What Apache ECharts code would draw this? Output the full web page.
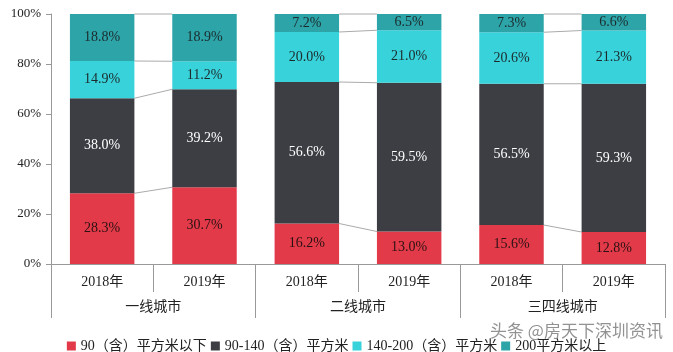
<!DOCTYPE html>
<html>
<head>
<meta charset="utf-8">
<script src="https://cdn.jsdelivr.net/npm/echarts@6/dist/echarts.min.js"></script>
<style>
  html, body { margin: 0; padding: 0; background: #fff; }
  #main { width: 673px; height: 352px; }
</style>
</head>
<body>
<div id="main"></div>
<script>
var years = ['2018年', '2019年', '2018年', '2019年', '2018年', '2019年'];
var groups = ['一线城市', '二线城市', '三四线城市'];
var seriesNames = ['90（含）平方米以下', '90-140（含）平方米', '140-200（含）平方米', '200平方米以上'];
var below90 = [28.3, 30.7, 16.2, 13.0, 15.6, 12.8];
var from90to140 = [38.0, 39.2, 56.6, 59.5, 56.5, 59.3];
var from140to200 = [14.9, 11.2, 20.0, 21.0, 20.6, 21.3];
var above200 = [18.8, 18.9, 7.2, 6.5, 7.3, 6.6];

var colors = ['#e23a48', '#3d3e44', '#38d2da', '#2ca4a8'];
var labelColors = ['#2a1214', '#ffffff', '#1c2a2c', '#1c2a2c'];
var serif = "'Liberation Serif', 'Times New Roman', 'Noto Sans CJK SC', serif";
var barRatio = 0.63;

var allSeries = [below90, from90to140, from140to200, above200];

// 每对柱子之间的连线（累计值）
var linkData = [];
for (var p = 0; p < years.length; p += 2) {
	var c0 = 0, c1 = 0;
	for (var s = 0; s < allSeries.length; s++) {
		c0 += allSeries[s][p];
		c1 += allSeries[s][p + 1];
		linkData.push([p, c0, c1]);
	}
}

var series = [];
for (var i = 0; i < allSeries.length; i++) {
	series.push({
		name: seriesNames[i],
		type: 'bar',
		stack: 'total',
		barWidth: (barRatio * 100) + '%',
		data: allSeries[i],
		itemStyle: { color: colors[i] },
		label: {
			show: true,
			position: 'inside',
			color: labelColors[i],
			fontFamily: serif,
			fontSize: 14,
			formatter: function (p) { return p.value.toFixed(1) + '%'; }
		}
	});
}

series.push({
	type: 'custom',
	silent: true,
	z: 1,
	data: linkData,
	renderItem: function (params, api) {
		var x0 = api.value(0);
		var a = api.coord([x0, api.value(1)]);
		var b = api.coord([x0 + 1, api.value(2)]);
		var hw = api.size([1, 0])[0] * barRatio / 2;
		return {
			type: 'line',
			shape: { x1: a[0] + hw, y1: a[1], x2: b[0] - hw, y2: b[1] },
			style: { stroke: '#aaaaaa', lineWidth: 1 }
		};
	}
});

var myChart = echarts.init(document.getElementById('main'));
var option = {
	animation: false,
	color: colors,
	grid: { left: 51, right: 8, top: 14, bottom: 88 },
	legend: {
		data: seriesNames,
		left: 'center',
		top: 334,
		itemWidth: 9,
		itemHeight: 9,
		itemGap: 4,
		icon: 'rect',
		textStyle: { fontFamily: serif, fontSize: 14, color: '#222' }
	},
	xAxis: [
		{
			type: 'category',
			data: years,
			position: 'bottom',
			axisLine: { show: true, lineStyle: { color: '#999' } },
			axisTick: { show: true, alignWithLabel: false, interval: 0, length: 28, lineStyle: { color: '#999' } },
			axisLabel: { interval: 0, margin: 11, fontFamily: serif, fontSize: 14, color: '#222' }
		},
		{
			type: 'category',
			data: groups,
			position: 'bottom',
			offset: 0,
			axisLine: { show: true, lineStyle: { color: '#999' } },
			axisTick: { show: true, alignWithLabel: false, interval: 0, length: 54, lineStyle: { color: '#999' } },
			axisLabel: { interval: 0, margin: 36, fontFamily: serif, fontSize: 14, color: '#222' }
		}
	],
	yAxis: {
		type: 'value',
		min: 0,
		max: 100,
		interval: 20,
		axisLine: { show: true, lineStyle: { color: '#999' } },
		axisTick: { show: true, length: 5, lineStyle: { color: '#999' } },
		splitLine: { show: false },
		axisLabel: { formatter: '{value}%', margin: 10, fontFamily: serif, fontSize: 13, color: '#222' }
	},
	graphic: [{
		type: 'text',
		left: 490,
		top: 322,
		z: 100,
		style: {
			text: '头条 @房天下深圳资讯',
			fontFamily: "'Noto Sans CJK SC', sans-serif",
			fontSize: 17,
			fill: 'rgba(110,110,110,0.75)'
		}
	}],
	series: series
};
myChart.setOption(option);
</script>
</body>
</html>
